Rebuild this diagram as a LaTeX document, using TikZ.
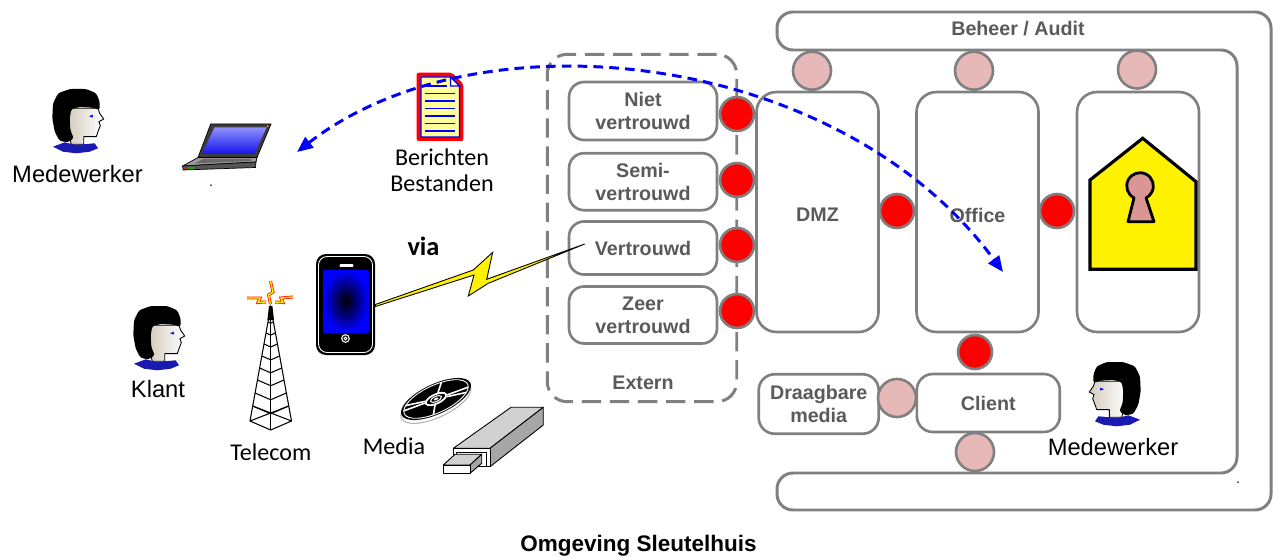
\documentclass[tikz,border=0pt]{standalone}
\usepackage{fontspec}
\setmainfont{Liberation Sans}
\newfontfamily\calibri{Carlito}
\usetikzlibrary{arrows.meta,calc}

\definecolor{framegray}{HTML}{808080}
\definecolor{labelgray}{HTML}{5A5A5A}
\definecolor{portred}{HTML}{FF0000}
\definecolor{portpink}{HTML}{E6B9B8}
\definecolor{keypink}{HTML}{D99694}
\definecolor{skinshade}{HTML}{D4CBBB}
\definecolor{shirtblue}{HTML}{1A1AB0}
\definecolor{docyellow}{HTML}{FFFF99}
\definecolor{lidgray}{HTML}{3C3C3C}
\definecolor{basegray}{HTML}{9A9A9A}
\definecolor{keygray}{HTML}{6A6A6A}
\definecolor{frontgray}{HTML}{555555}
\definecolor{screenlight}{HTML}{9090FF}
\definecolor{screenblue}{HTML}{1414EE}
\definecolor{usbtop}{HTML}{D0D0D0}
\definecolor{usbside}{HTML}{A6A6A6}

\tikzset{
  % person clip-art, drawn facing right, local units are pixels
  pics/persona/.style={code={
    \draw[line width=0.5pt, left color=skinshade, right color=white]
      (16,19.3) -- (46,19.3) -- (47.7,24.3) -- (51.7,30) -- (47,32.7) -- (48.3,36.7)
      -- (46,42.7) -- (44.3,47.7) -- (31.7,47.7) -- (31.7,55.3) -- (19.3,55.3)
      -- (17,46) -- (15,32.7) -- cycle;
    \fill[black, rounded corners=0.05cm]
      (2.7,42.7) -- (0.3,29.3) -- (1,14.3) -- (6,4.3) -- (17.7,0) -- (34.3,0)
      -- (44.3,4.3) -- (47.7,12.7) -- (47.7,21) -- (41,18.7) -- (27.7,18) -- (19.3,20)
      -- (17.7,29.3) -- (18.3,41) -- (21.7,49.3) -- (16,53.3) -- (7.7,52) -- cycle;
    \fill[shirtblue] (1,57.7) -- (12.7,53.3) -- (24,56) -- (31,55.3) -- (42.7,54.3)
      -- (46,59.3) -- (37.7,62.7) -- (24.3,64.3) -- (11,62.7) -- cycle;
    \fill[blue] (37,27.2) -- (41,25.7) -- (40.6,28.6) -- cycle;
    \draw[line width=0.6pt] (31.7,47.7) -- (44.3,47.7);
  }},
  zone/.style={draw=framegray, line width=1.5pt, fill=white, rounded corners=0.4cm,
    font=\fontsize{11.2}{13}\selectfont\bfseries, text=labelgray, align=center,
    inner sep=0pt},
  trust/.style={zone, rounded corners=0.3cm, minimum width=2.96cm},
  smallzone/.style={zone, rounded corners=0.32cm},
  redport/.style={circle, draw=framegray, line width=1.5pt, fill=portred,
    minimum size=0.68cm, inner sep=0pt},
  pinkport/.style={redport, fill=portpink, minimum size=0.76cm},
  graylabel/.style={font=\fontsize{11.2}{13}\selectfont\bfseries, text=labelgray,
    inner sep=0pt, align=center},
  plainlabel/.style={font=\fontsize{13.5}{16}\selectfont, inner sep=0pt},
  callabel/.style={font=\calibri\fontsize{13.7}{15.1}\selectfont, inner sep=0pt,
    align=center},
  externbox/.style={draw=framegray, line width=1.7pt, dash pattern=on 11pt off 5pt,
    rounded corners=0.4cm, inner sep=0pt},
  msgflow/.style={draw=blue, line width=1.7pt, dash pattern=on 5.5pt off 3.5pt,
    {Triangle[length=9pt,width=7.5pt]}-{Triangle[length=9pt,width=7.5pt]}},
  bolt/.style={draw=black, line width=0.5pt, fill=yellow, line join=miter},
  spark/.style={draw=red!85!orange, double=yellow, double distance=0.8pt,
    line width=0.45pt, line join=miter},
  tower/.style={draw=black, line width=0.6pt},
  usb/.style={draw=black, line width=0.5pt, line join=round},
}

\begin{document}
\begin{tikzpicture}[x=0.02cm, y=-0.02cm]
\useasboundingbox (0,0) rectangle (1273,557);
\fill[white] (0,0) rectangle (1273,557);

% ---------- management frame ----------
\draw[draw=framegray, line width=1.7pt, fill=white, rounded corners=0.32cm]
  (1000,12) -- (1271,12) -- (1271,510) -- (777,510) -- (777,473) -- (1237,473)
  -- (1237,50) -- (777,50) -- (777,12) -- cycle;
\node[graylabel] (beheer) at (1018,28.5) {Beheer / Audit};

% ---------- external zone ----------
\node[externbox, minimum width=3.79cm, minimum height=6.95cm] (extern) at (642,228) {};
\node[graylabel] (externlbl) at (643,383) {Extern};

\node[trust, minimum height=1.16cm] (niet)  at (643,111)   {Niet\\vertrouwd};
\node[trust, minimum height=1.14cm] (semi)  at (643,181.7) {Semi-\\vertrouwd};
\node[trust, minimum height=1.06cm] (vertr) at (643,248)   {Vertrouwd};
\node[trust, minimum height=1.14cm] (zeer)  at (643,315)   {Zeer\\vertrouwd};

% ---------- internal zones ----------
\node[zone, minimum width=2.44cm, minimum height=4.8cm] (dmz)    at (817.5,212) {};
\node[zone, minimum width=2.44cm, minimum height=4.8cm] (office) at (977.5,212) {};
\node[zone, minimum width=2.44cm, minimum height=4.8cm] (vault)  at (1138,212)  {};
\node[graylabel] (dmzlbl) at (817.5,215) {DMZ};
\node[graylabel] (officelbl) at (977.5,215) {Office};
\node[smallzone, minimum width=2.86cm, minimum height=1.16cm] (client) at (988.3,403) {Client};
\node[smallzone, minimum width=2.4cm, minimum height=1.19cm] (media) at (818.7,404) {Draagbare\\media};

% ---------- ports ----------
\node[redport] (p1) at (737,114) {};
\node[redport] (p2) at (737,180) {};
\node[redport] (p3) at (737,245) {};
\node[redport] (p4) at (737,311) {};
\node[redport] (p5) at (897,211) {};
\node[redport] (p6) at (1057,211) {};
\node[redport] (p7) at (975,352) {};
\node[pinkport] (a1) at (812,70.7) {};
\node[pinkport] (a2) at (974,70.7) {};
\node[pinkport] (a3) at (1137,69.5) {};
\node[pinkport] (a4) at (897,398) {};
\node[pinkport] (a5) at (975,452) {};

% ---------- vault: house with keyhole ----------
\draw[black, line width=1.8pt, fill=yellow, line join=miter]
  (1142.7,138.3) -- (1196,181.7) -- (1196,269.3) -- (1090,269.3) -- (1090,180) -- cycle;
\draw[black, line width=1.6pt, fill=keypink, line join=round]
  (1128,221.7) -- (1134,197.85) arc[start angle=117, end angle=423, radius=13.3]
  -- (1154,221.7) -- cycle;

% ---------- people ----------
\pic at (52,89) {persona};
\pic at (133,306) {persona};
\pic[xscale=-1] at (1141,362) {persona};
\node[plainlabel] (medew1) at (77.5,174) {Medewerker};
\node[plainlabel] (klant) at (158,389) {Klant};
\node[plainlabel] (medew2) at (1113,447) {Medewerker};
\node[font=\fontsize{8}{8}\selectfont] (dot1) at (211,186) {.};
\node[font=\fontsize{8}{8}\selectfont] (dot2) at (1238,483) {.};

% ---------- laptop ----------
\draw[black, line width=0.4pt, fill=lidgray]
  (210.7,124) -- (271,124) -- (257,157.5) -- (198,157.5) -- cycle;
\shade[top color=screenlight, bottom color=screenblue]
  (214.5,127.5) -- (266.5,127.5) -- (254.5,154) -- (202,154) -- cycle;
\fill[orange] (267.6,126.2) circle[radius=1.1];
\draw[black, line width=0.4pt, fill=basegray]
  (198,157.5) -- (257,157.5) -- (256,162) -- (182.7,166) -- cycle;
\fill[keygray] (203,159) -- (251,159) -- (250.5,161) -- (195,163.5) -- cycle;
\draw[black, line width=0.4pt, fill=frontgray]
  (182.7,166) -- (256,162) -- (255.5,167.5) -- (183,170) -- cycle;
\fill[red] (185,167.6) rectangle (187,168.8);
\fill[green!70!black] (188,167.4) rectangle (194,168.6);

% ---------- document ----------
\fill[red, rounded corners=0.04cm]
  (416.7,72.7) -- (452,72.7) -- (463.3,84) -- (463.3,141) -- (416.7,141) -- cycle;
\draw[blue, line width=0.7pt, fill=docyellow]
  (421,77) -- (450.5,77) -- (459.5,86) -- (459.5,137) -- (421,137) -- cycle;
\draw[blue, line width=0.7pt, fill=white] (450.5,77) -- (450.5,86) -- (459.5,86) -- cycle;
\foreach \yy/\xe in {86/447,93.5/455,101/455,108.5/455,116/455,123.5/455,131/455}
  \draw[blue, line width=1.1pt] (425,\yy) -- (\xe,\yy);
\node[callabel] (doclbl) at (442,170) {Berichten\\Bestanden};

% ---------- phone ----------
\node[minimum width=1.18cm, minimum height=2.02cm] (phone) at (345.5,304.5) {};
\fill[black, rounded corners=0.2cm] (316,254) rectangle (375,355);
\draw[white, line width=0.5pt, rounded corners=0.17cm] (318.5,256.5) rectangle (372.5,352.5);
\shade[inner color=black, outer color=blue] (323.3,270) rectangle (368.3,332);
\draw[white, line width=1.2pt, line cap=round] (340.5,265.5) -- (352.5,265.5);
\draw[white, line width=0.6pt] (345.5,338.5) circle[radius=3.8];
\draw[white, line width=0.5pt] (345.5,338.5) circle[radius=1.5];

% ---------- wireless link ----------
\draw[bolt] (phone.east) -- (473.3,270) -- (492.7,252.3) -- (486.7,279.3)
  -- ($(vertr.west)+(17,-4)$) -- (488.3,283.3) -- (468.3,296) -- (474,275)
  -- ($(phone.east)+(0,2)$) -- cycle;
\node[font=\calibri\fontsize{15}{18}\selectfont\bfseries] (via) at (423.5,246.5) {via};

% ---------- telecom tower ----------
\draw[tower] (270.7,307) -- (250,421) -- (270.7,430) -- (291.5,421) -- cycle;
\draw[tower] (270.7,307) -- (270.7,430);
\foreach \yy in {322,333,344,356,368,380,393,406}
  \draw[tower] ({270.7-(\yy-307)*0.1816},\yy) -- (270.7,{\yy+(\yy-307)*0.079})
    -- ({270.7+(\yy-307)*0.1816},\yy);
\draw[tower] ({270.7-(406-307)*0.1816},406) -- (291.5,421);
\draw[tower] ({270.7+(406-307)*0.1816},406) -- (250,421);
\fill[black] (269,306) -- (272.4,306) -- (274,320) -- (267.4,320) -- cycle;
\draw[spark] (270.5,304) -- (268.5,295) -- (273,292) -- (270.5,281);
\draw[spark] (266,302) -- (258,302.5) -- (260,298) -- (247,298);
\draw[spark] (275,302) -- (283,302.5) -- (281,298) -- (293,297);
\node[callabel] (telecom) at (270.8,452.7) {Telecom};

% ---------- media: disc ----------
\begin{scope}[shift={(436,399)}, rotate=25]
  \draw[gray!60, line width=0.6pt] (-1.5,3) ellipse [x radius=38, y radius=15];
  \fill[black] (0,0) ellipse [x radius=38, y radius=15];
  \draw[white, line width=0.5pt] (0,0) ellipse [x radius=35, y radius=13.7];
  \foreach \a in {12,30,105,192,210,290}
    \draw[white, line width=0.9pt] ({12*cos(\a)},{4.8*sin(\a)}) -- ({35*cos(\a)},{13.7*sin(\a)});
  \draw[white, line width=1pt] (0,0) ellipse [x radius=11, y radius=4.6];
  \draw[white, line width=0.6pt] (0,0) ellipse [x radius=6, y radius=2.5];
  \fill[white] (0,0) ellipse [x radius=2.6, y radius=1.1];
\end{scope}
\node[callabel] (medialbl) at (394,446.7) {Media};

% ---------- media: usb stick ----------
\draw[usb, fill=usbtop] (453.3,448.3) -- (511,407.3) -- (543.3,407.3) -- (490,448.3) -- cycle;
\draw[usb, fill=usbside] (490,448.3) -- (543.3,407.3) -- (543.3,425) -- (490,466.7) -- cycle;
\draw[usb, fill=white] (453.3,448.3) rectangle (490,466.7);
\draw[usb] (456.5,452) rectangle (486,466.7);
\draw[usb, fill=usbtop] (443.3,465) -- (455,454.3) -- (481.7,454.3) -- (470,465) -- cycle;
\draw[usb, fill=usbside] (470,465) -- (481.7,454.3) -- (481.7,463.3) -- (470,473.3) -- cycle;
\draw[usb, fill=white] (443.3,465) rectangle (470,473.3);

% ---------- message flow ----------
\coordinate (msgA) at (297,152);
\coordinate (msgB) at (1003,272);
\draw[msgflow] (msgA) .. controls (480,10) and (840,50) .. (msgB);

% ---------- caption ----------
\node[font=\fontsize{12.8}{15}\selectfont\bfseries] (caption) at (638.5,546) {Omgeving Sleutelhuis};
\end{tikzpicture}
\end{document}
